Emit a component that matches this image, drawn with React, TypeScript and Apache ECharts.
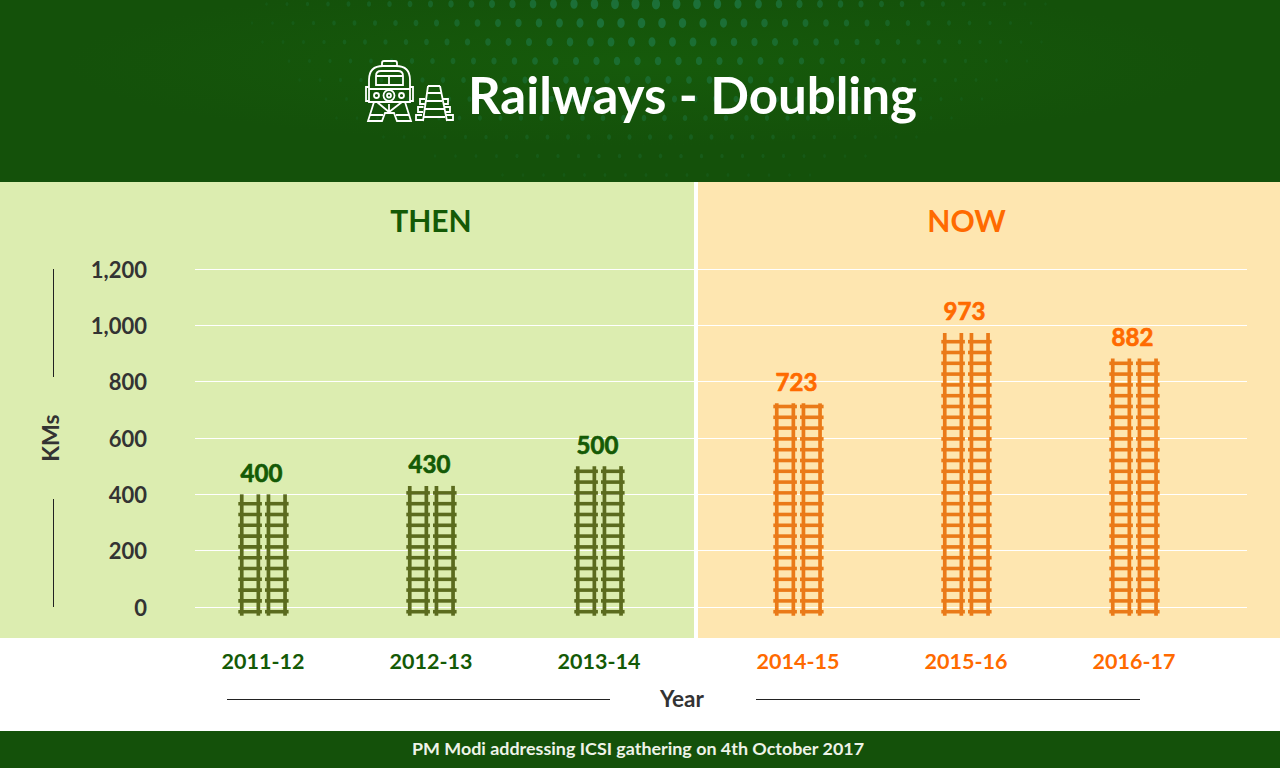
import React, { useEffect, useRef } from "react";
import * as echarts from "echarts";

const thenYears = ["2011-12", "2012-13", "2013-14"];
const thenValues = [400, 430, 500];
const nowYears = ["2014-15", "2015-16", "2016-17"];
const nowValues = [723, 973, 882];
const yTicks = [0, 200, 400, 600, 800, 1000, 1200];

const FONT = "Lato, sans-serif";
const DARK_GREEN = "#14510a";
const LABEL_GREEN = "#145a06";
const ORANGE = "#ff6a00";
const INK = "#333333";

const ICON =
  "M382 66V63Q382 61 384 61H395Q397 61 397 63V66" +
  "M369 87V80Q369 66 383 66H396Q410 66 410 80V102H369Z" +
  "M376 85V76Q376 71 381 71H398Q403 71 403 76V85Z" +
  "M389 76V85M376 76H403M369 89H410" +
  "M394.5 95.5A5.5 5.5 0 1 1 383.5 95.5A5.5 5.5 0 1 1 394.5 95.5" +
  "M391 95.5A2 2 0 1 1 387 95.5A2 2 0 1 1 391 95.5" +
  "M379 95.5A2.5 2.5 0 1 1 374 95.5A2.5 2.5 0 1 1 379 95.5" +
  "M404 95.5A2.5 2.5 0 1 1 399 95.5A2.5 2.5 0 1 1 404 95.5" +
  "M369 87H366V101H369M410 87H413V101H410" +
  "M374 102L368 121H382L385 113H394L397 121H411L405 102" +
  "M377 102L389 112L402 102M389 104V112M370 115H383M396 115H409" +
  "M428 86L423 121M440 86L447 121M428 86H440" +
  "M427 93H441M426 101H442M425 109H444M424 117H445" +
  "M425 99H420V104H424.5M423.5 107H418V112H423M422 115H416V120H423" +
  "M443 99H448V104H443.5M445 107H450V112H445.5M446 115H453V120H447";

let iconRegistered = false;
function registerIcon() {
  if (iconRegistered) return;
  echarts.graphic.registerShape("railIcon", echarts.graphic.extendPath(ICON, {}));
  iconRegistered = true;
}

function headerDots() {
  const dots: any[] = [];
  for (let row = 0; row < 10; row++) {
    const y = 4 + row * 19;
    for (let col = -2; col < 64; col++) {
      const x = col * 20.5 + (row % 2) * 8 - row * 2;
      const d = Math.hypot((x - 650) / 430, (y + 5) / 210);
      const strength = Math.max(0, 1 - d);
      if (strength < 0.06) continue;
      dots.push({
        type: "ellipse",
        z: -9,
        silent: true,
        shape: { cx: x, cy: y, rx: 1 + 3.2 * strength, ry: 1.4 + 4.2 * strength },
        style: { fill: "#1f7c4c", opacity: Math.min(0.7, 0.08 + strength * 0.75) },
      });
    }
  }
  return dots;
}

function trackItem(color: string, labelColor: string) {
  return (_params: any, api: any) => {
    const [cx, top] = api.coord([api.value(0), api.value(1)]);
    const [, zero] = api.coord([api.value(0), 0]);
    const bottom = zero + 8.7;
    const children: any[] = [];
    const rect = (x: number, y: number, w: number, h: number) => ({
      type: "rect",
      shape: { x, y, width: w, height: h },
      style: { fill: color },
    });
    [-24.7, 2].forEach((off) => {
      children.push(rect(cx + off + 1.6, top, 3.7, bottom - top));
      children.push(rect(cx + off + 18.2, top, 3.7, bottom - top));
      for (let y = zero + 4.7; y > top + 3; y -= 10.8) {
        children.push(rect(cx + off, y - 1.8, 23.6, 3.6));
      }
    });
    children.push({
      type: "text",
      style: {
        text: String(api.value(1)),
        x: cx - 1.5,
        y: top - 22,
        align: "center",
        verticalAlign: "middle",
        fill: labelColor,
        stroke: labelColor,
        lineWidth: 0.7,
        font: `700 24px ${FONT}`,
      },
    });
    return { type: "group", children };
  };
}

function textEl(text: string, x: number, y: number, font: string, fill: string) {
  return { type: "text", z: 5, style: { text, x, y, align: "center", verticalAlign: "middle", font, fill } };
}

function ruleEl(x1: number, y1: number, x2: number, y2: number) {
  return { type: "line", z: 5, shape: { x1, y1, x2, y2 }, style: { stroke: "#222222", lineWidth: 1 } };
}

function bgRect(x: number, y: number, width: number, height: number, fill: any) {
  return { type: "rect", z: -10, silent: true, shape: { x, y, width, height }, style: { fill } };
}

const hiddenY = (gridIndex: number) => ({ type: "value", gridIndex, min: 0, max: 1200, interval: 200, show: false });

const yearAxis = (gridIndex: number, data: string[], color: string) => ({
  type: "category",
  gridIndex,
  data,
  axisLine: { show: false },
  axisTick: { show: false },
  axisLabel: { color, fontFamily: FONT, fontWeight: 700, fontSize: 21.5, margin: 43 },
});

export default function App() {
  const ref = useRef<HTMLDivElement>(null);

  useEffect(() => {
    document.body.style.margin = "0";
    document.body.style.overflow = "hidden";
    registerIcon();
    const chart = echarts.init(ref.current!, null, { renderer: "svg" });
    chart.setOption({
      animation: false,
      backgroundColor: "#ffffff",
      grid: [
        { left: 195, width: 1052, top: 269, height: 338 },
        { left: 179, width: 504, top: 269, height: 338 },
        { left: 714, width: 504, top: 269, height: 338 },
      ],
      xAxis: [
        {
          type: "value",
          gridIndex: 0,
          min: 0,
          max: 1,
          name: "Year",
          nameLocation: "middle",
          nameGap: 80,
          nameTextStyle: { color: INK, fontFamily: FONT, fontWeight: 700, fontSize: 22.5, padding: [0, 78, 0, 0] },
          axisLine: { show: false },
          axisTick: { show: false },
          axisLabel: { show: false },
          splitLine: { show: false },
        },
        yearAxis(1, thenYears, LABEL_GREEN),
        yearAxis(2, nowYears, ORANGE),
      ],
      yAxis: [
        {
          type: "value",
          gridIndex: 0,
          min: yTicks[0],
          max: yTicks[yTicks.length - 1],
          interval: yTicks[1] - yTicks[0],
          name: "KMs",
          nameLocation: "middle",
          nameRotate: 90,
          nameGap: 134,
          nameTextStyle: { color: INK, fontFamily: FONT, fontWeight: 700, fontSize: 23 },
          axisLine: { show: false },
          axisTick: { show: false },
          axisLabel: {
            color: INK,
            fontFamily: FONT,
            fontWeight: 700,
            fontSize: 22,
            margin: 48,
            padding: [0, 0, 5, 0],
            formatter: (v: number) => v.toLocaleString("en-US"),
          },
          splitLine: { lineStyle: { color: "#ffffff", width: 1 } },
        },
        hiddenY(1),
        hiddenY(2),
      ],
      series: [
        {
          type: "custom",
          name: "Then",
          xAxisIndex: 1,
          yAxisIndex: 1,
          data: thenValues.map((v, i) => [i, v]),
          encode: { x: 0, y: 1 },
          renderItem: trackItem("#5b6b1e", LABEL_GREEN),
          z: 3,
        },
        {
          type: "custom",
          name: "Now",
          xAxisIndex: 2,
          yAxisIndex: 2,
          data: nowValues.map((v, i) => [i, v]),
          encode: { x: 0, y: 1 },
          renderItem: trackItem("#ea7a18", ORANGE),
          z: 3,
        },
      ],
      graphic: [
        bgRect(
          0,
          0,
          1280,
          182,
          new echarts.graphic.RadialGradient(0.5, 0.35, 0.45, [
            { offset: 0, color: "#165a0b" },
            { offset: 1, color: DARK_GREEN },
          ])
        ),
        ...headerDots(),
        bgRect(0, 182, 694, 456, "#dcedb0"),
        bgRect(698, 182, 582, 456, "#fee6b0"),
        bgRect(0, 731, 1280, 37, DARK_GREEN),
        {
          type: "railIcon",
          z: 5,
          x: 0,
          y: 0,
          style: { fill: "none", stroke: "#ffffff", lineWidth: 1.8 },
        },
        textEl("Railways - Doubling", 692.5, 94, `700 51px ${FONT}`, "#ffffff"),
        textEl("THEN", 431, 220, `700 30px ${FONT}`, LABEL_GREEN),
        textEl("NOW", 966.5, 220, `700 30px ${FONT}`, ORANGE),
        textEl("PM Modi addressing ICSI gathering on 4th October 2017", 638, 748, `700 17.9px ${FONT}`, "#eef3e8"),
        ruleEl(53.5, 269, 53.5, 377),
        ruleEl(53.5, 499, 53.5, 607),
        ruleEl(227, 699.5, 610, 699.5),
        ruleEl(756, 699.5, 1140, 699.5),
      ],
    });
    return () => chart.dispose();
  }, []);

  return <div ref={ref} style={{ width: 1280, height: 768 }} />;
}
